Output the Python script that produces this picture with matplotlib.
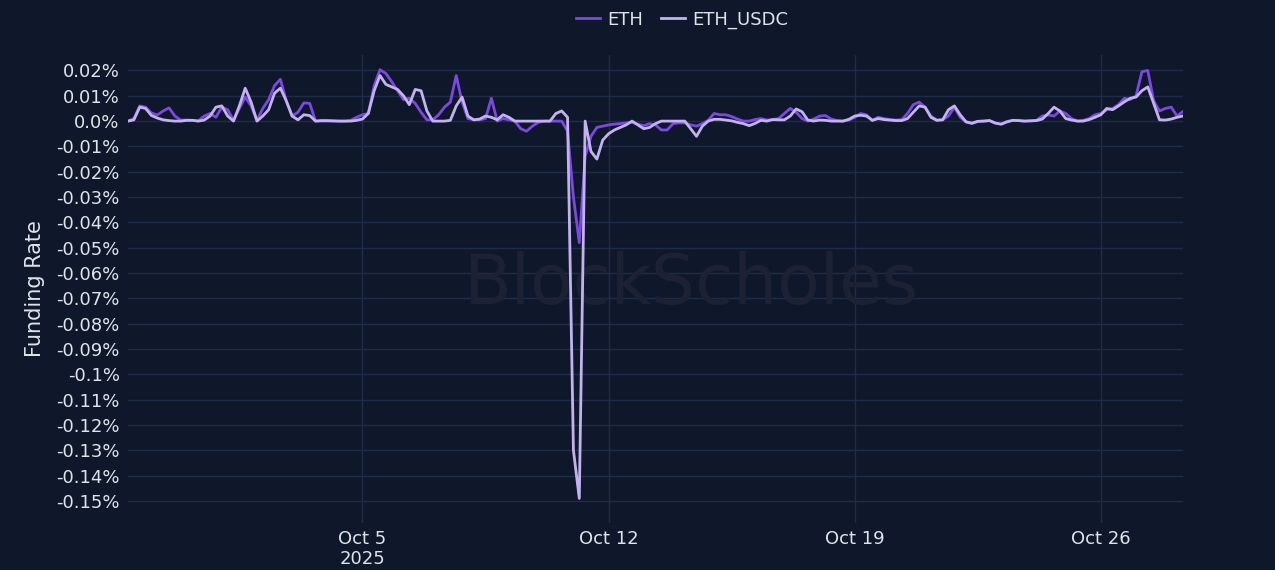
import matplotlib
matplotlib.use("Agg")
import matplotlib.pyplot as plt
import pandas as pd

# funding rate in %, one value every 4 hours from 2025-09-28 08:00
eth = [0.0, 0.001, 0.006, 0.0055, 0.0032, 0.0024, 0.004, 0.0052, 0.002, 0.0004,
       0.0004, 0.0003, 0.0001, 0.002, 0.003, 0.0015, 0.0055, 0.0045, 0.0003, 0.005,
       0.0095, 0.006, 0.0003, 0.005, 0.0085, 0.014, 0.0165, 0.008, 0.002, 0.0035,
       0.0072, 0.007, 0.0, 0.0, 0.0, 0.0, 0.0, 0.0, 0.0003, 0.0015,
       0.0025, 0.003, 0.014, 0.0203, 0.0188, 0.0155, 0.012, 0.0085, 0.009, 0.007,
       0.0035, 0.0005, 0.0005, 0.0025, 0.0055, 0.0075, 0.018, 0.0075, 0.001, 0.0005,
       0.0005, 0.001, 0.009, 0.0, 0.001, 0.0005, 0.0, -0.003, -0.004, -0.002,
       -0.0005, 0.0, 0.0, 0.0, 0.0, -0.004, -0.03, -0.048, -0.014, -0.006,
       -0.0025, -0.002, -0.0015, -0.0012, -0.001, -0.0007, -0.0005, -0.0012, -0.0018, -0.001,
       -0.0015, -0.0035, -0.0035, -0.001, -0.0007, -0.0007, -0.0015, -0.002, -0.001, 0.0003,
       0.003, 0.0025, 0.0025, 0.0018, 0.0008, 0.0, 0.0, 0.0006, 0.001, 0.0004,
       0.0006, 0.001, 0.003, 0.005, 0.0035, 0.001, 0.0, 0.0008, 0.002, 0.0022,
       0.0008, 0.0002, 0.0, 0.0004, 0.0015, 0.003, 0.0025, 0.0003, 0.0015, 0.001,
       0.0006, 0.0004, 0.0006, 0.003, 0.0065, 0.0075, 0.0055, 0.002, 0.0004, 0.0005,
       0.002, 0.0055, 0.0015, -0.0004, -0.001, -0.0001, 0.0, 0.0002, -0.0008, -0.0012,
       -0.0001, 0.0003, 0.0002, 0.0, 0.0001, 0.0003, 0.002, 0.0024, 0.002, 0.004,
       0.003, 0.001, 0.0, 0.0003, 0.001, 0.0025, 0.003, 0.0045, 0.005, 0.0065,
       0.009, 0.0085, 0.01, 0.0195, 0.02, 0.008, 0.004, 0.005, 0.0055, 0.002,
       0.0038]

eth_usdc = [0.0, 0.0005, 0.0055, 0.005, 0.0022, 0.0012, 0.0005, 0.0002, 0.0, 0.0,
            0.0003, 0.0003, 0.0, 0.0004, 0.002, 0.0055, 0.006, 0.002, 0.0, 0.006,
            0.013, 0.0075, 0.0, 0.002, 0.0045, 0.011, 0.013, 0.008, 0.002, 0.0005,
            0.0025, 0.0022, 0.0, 0.0002, 0.0002, 0.0001, 0.0, 0.0, 0.0, 0.0003,
            0.0008, 0.003, 0.012, 0.018, 0.0145, 0.0135, 0.0125, 0.01, 0.0065, 0.0125,
            0.012, 0.004, 0.0, 0.0, 0.0, 0.0003, 0.006, 0.0095, 0.002, 0.0005,
            0.0008, 0.002, 0.0015, 0.0005, 0.0025, 0.0015, 0.0, 0.0, 0.0, 0.0,
            0.0, 0.0, 0.0, 0.003, 0.004, 0.0015, -0.13, -0.149, 0.0, -0.012,
            -0.015, -0.0075, -0.005, -0.0035, -0.0025, -0.0015, 0.0, -0.0015, -0.003, -0.0025,
            -0.001, 0.0, 0.0, 0.0, 0.0, 0.0, -0.003, -0.006, -0.002, 0.0,
            0.0007, 0.0007, 0.0004, 0.0001, -0.0005, -0.001, -0.0018, -0.0009, 0.0003, 0.0,
            0.0006, 0.0005, 0.0005, 0.002, 0.0048, 0.0037, 0.0004, 0.0, 0.0004, 0.0003,
            0.0, 0.0, 0.0, 0.0007, 0.002, 0.0023, 0.002, 0.0003, 0.001, 0.0006,
            0.0004, 0.0002, 0.0002, 0.001, 0.0035, 0.006, 0.0055, 0.0015, 0.0003, 0.0005,
            0.0045, 0.006, 0.0025, -0.0003, -0.0008, -0.0001, 0.0, 0.0002, -0.0008, -0.0012,
            -0.0003, 0.0003, 0.0002, 0.0, 0.0001, 0.0002, 0.0008, 0.003, 0.0055, 0.004,
            0.001, 0.0004, 0.0, 0.0, 0.0006, 0.0015, 0.0025, 0.005, 0.0045, 0.006,
            0.0076, 0.009, 0.0095, 0.012, 0.0135, 0.007, 0.0005, 0.0004, 0.0008, 0.0015,
            0.002]

y_ticks = [0.02, 0.01, 0.0, -0.01, -0.02, -0.03, -0.04, -0.05, -0.06, -0.07, -0.08,
           -0.09, -0.1, -0.11, -0.12, -0.13, -0.14, -0.15]
x_ticks = ["2025-10-05", "2025-10-12", "2025-10-19", "2025-10-26"]
x_labels = ["Oct 5\n2025", "Oct 12", "Oct 19", "Oct 26"]

times = pd.date_range("2025-09-28 08:00", periods=len(eth), freq="4h")

bg = "#0f182b"
grid = "#1f2c48"
txt = "#dfe3ea"

fig = plt.figure(figsize=(12.75, 5.7), dpi=100, facecolor=bg)
ax = fig.add_axes([0.1004, 0.0825, 0.8274, 0.8210], facecolor=bg)

ax.plot(times, eth, color="#7b48e0", lw=2, label="ETH", zorder=3)
ax.plot(times, eth_usdc, color="#c2b3ee", lw=2, label="ETH_USDC", zorder=4)

ax.set_xlim(pd.Timestamp("2025-09-28 08:00"), pd.Timestamp("2025-10-28 08:00"))
ax.set_ylim(-0.1587, 0.0261)

def fmt(v):
    s = f"{v:.2f}".rstrip("0")
    if s.endswith("."):
        s += "0"
    if s == "-0.0":
        s = "0.0"
    return s + "%"

ax.set_yticks(y_ticks)
ax.set_yticklabels([fmt(v) for v in y_ticks])
ax.set_xticks([pd.Timestamp(t) for t in x_ticks])
ax.set_xticklabels(x_labels, linespacing=1.15)

ax.grid(True, color=grid, lw=1)
ax.set_axisbelow(True)
for s in ax.spines.values():
    s.set_visible(False)
ax.tick_params(axis="both", length=0, colors=txt, labelsize=13)
ax.tick_params(axis="y", pad=6)
ax.tick_params(axis="x", pad=5)

ax.set_ylabel("Funding Rate", color=txt, fontsize=15, labelpad=8)

ax.text(0.533, 0.51, "BlockScholes", transform=ax.transAxes, ha="center", va="center",
        fontsize=50, color="#1c2233", zorder=1)

fig.legend(loc="upper center", bbox_to_anchor=(0.535, 1.01), ncol=2, frameon=False,
           fontsize=13, labelcolor=txt, handlelength=1.3, handletextpad=0.4,
           columnspacing=1.0)

fig.savefig("out.png", dpi=100, facecolor=bg)
